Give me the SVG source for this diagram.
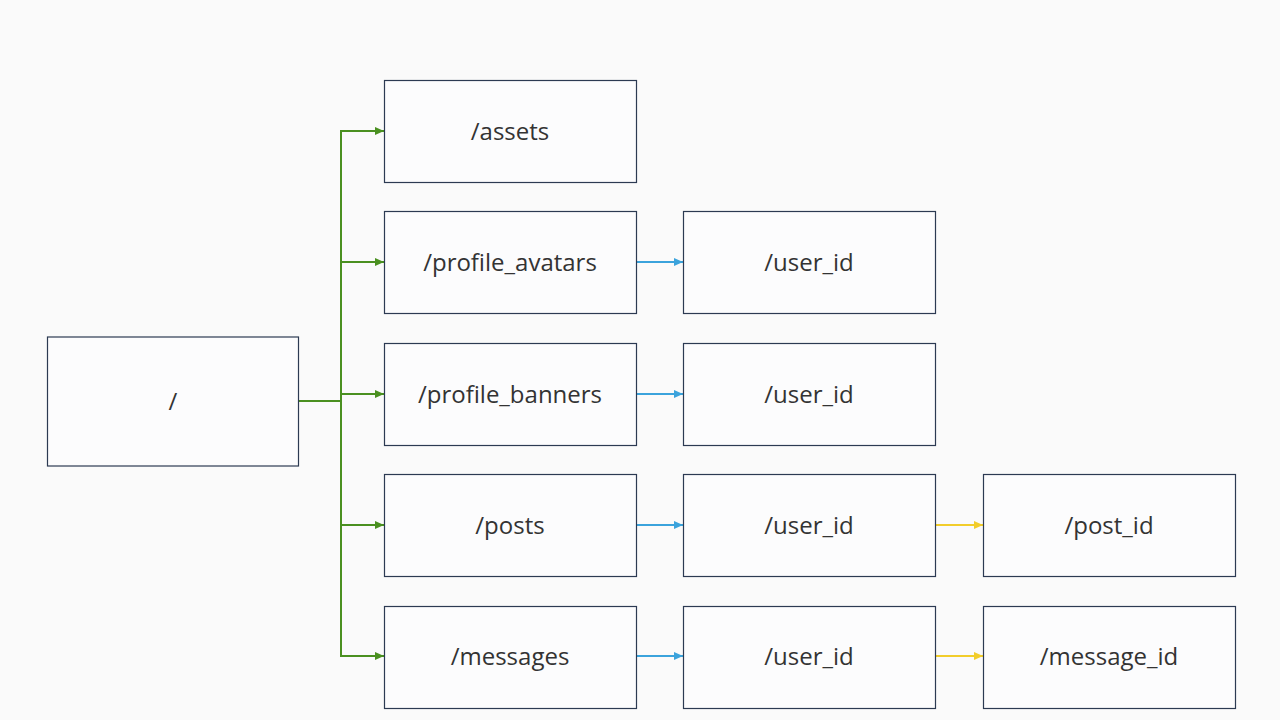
<svg xmlns="http://www.w3.org/2000/svg" width="1280" height="720" viewBox="0 0 1280 720">
<defs>
<style>
.box{fill:#fcfcfd;stroke:#2c3a52;stroke-width:1.2}
.lbl{font-family:"Open Sans","Noto Sans",sans-serif;font-size:24px;fill:#333;text-anchor:middle;dominant-baseline:central}
.g{stroke:#4a9020;stroke-width:2;fill:none}
.b{stroke:#3ba3dc;stroke-width:2;fill:none}
.y{stroke:#f2cd2b;stroke-width:2;fill:none}
</style>
<marker id="ag" markerWidth="9" markerHeight="8" refX="9" refY="4" orient="auto" markerUnits="userSpaceOnUse"><path d="M0,0 L9,4 L0,8 Z" fill="#4a9020"/></marker>
<marker id="ab" markerWidth="9" markerHeight="8" refX="9" refY="4" orient="auto" markerUnits="userSpaceOnUse"><path d="M0,0 L9,4 L0,8 Z" fill="#3ba3dc"/></marker>
<marker id="ay" markerWidth="9" markerHeight="8" refX="9" refY="4" orient="auto" markerUnits="userSpaceOnUse"><path d="M0,0 L9,4 L0,8 Z" fill="#f2cd2b"/></marker>
</defs>
<rect width="1280" height="720" fill="#fafafa"/>
<g id="connectors">
<path class="g" d="M298,401 H341" stroke-width="3"/>
<path class="g" d="M341,130 V657"/>
<path class="g" d="M341,131 H384" marker-end="url(#ag)"/>
<path class="g" d="M341,262 H384" marker-end="url(#ag)"/>
<path class="g" d="M341,394 H384" marker-end="url(#ag)"/>
<path class="g" d="M341,525 H384" marker-end="url(#ag)"/>
<path class="g" d="M341,656 H384" marker-end="url(#ag)"/>
<path class="b" d="M636,262 H683" marker-end="url(#ab)"/>
<path class="b" d="M636,394 H683" marker-end="url(#ab)"/>
<path class="b" d="M636,525 H683" marker-end="url(#ab)"/>
<path class="b" d="M636,656 H683" marker-end="url(#ab)"/>
<path class="y" d="M935,525 H983" marker-end="url(#ay)"/>
<path class="y" d="M935,656 H983" marker-end="url(#ay)"/>
</g>
<g id="root"><rect class="box" x="47.5" y="337" width="251" height="129"/><text class="lbl" x="173" y="400">/</text></g>
<g id="assets"><rect class="box" x="384.5" y="80.5" width="252" height="102"/><text class="lbl" x="510" y="130">/assets</text></g>
<g id="profile_avatars"><rect class="box" x="384.5" y="211.5" width="252" height="102"/><text class="lbl" x="510" y="261">/profile_avatars</text></g>
<g id="profile_banners"><rect class="box" x="384.5" y="343.5" width="252" height="102"/><text class="lbl" x="510" y="393">/profile_banners</text></g>
<g id="posts"><rect class="box" x="384.5" y="474.5" width="252" height="102"/><text class="lbl" x="510" y="524">/posts</text></g>
<g id="messages"><rect class="box" x="384.5" y="606.5" width="252" height="102"/><text class="lbl" x="510" y="655">/messages</text></g>
<g id="avatars_user_id"><rect class="box" x="683.5" y="211.5" width="252" height="102"/><text class="lbl" x="809" y="261">/user_id</text></g>
<g id="banners_user_id"><rect class="box" x="683.5" y="343.5" width="252" height="102"/><text class="lbl" x="809" y="393">/user_id</text></g>
<g id="posts_user_id"><rect class="box" x="683.5" y="474.5" width="252" height="102"/><text class="lbl" x="809" y="524">/user_id</text></g>
<g id="messages_user_id"><rect class="box" x="683.5" y="606.5" width="252" height="102"/><text class="lbl" x="809" y="655">/user_id</text></g>
<g id="post_id"><rect class="box" x="983.5" y="474.5" width="252" height="102"/><text class="lbl" x="1109" y="524">/post_id</text></g>
<g id="message_id"><rect class="box" x="983.5" y="606.5" width="252" height="102"/><text class="lbl" x="1109" y="655">/message_id</text></g>
</svg>
